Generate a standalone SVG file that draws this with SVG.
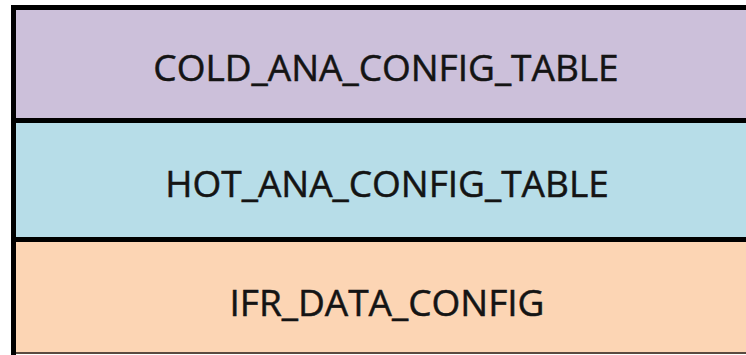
<svg xmlns="http://www.w3.org/2000/svg" width="746" height="355" viewBox="0 0 746 355">
<style>
.t{font-family:"Open Sans","Liberation Sans",sans-serif;font-size:37px;fill:#141414;stroke:#141414;stroke-width:0.5;text-anchor:middle}
.b{fill:#000}
</style>
<rect width="746" height="355" fill="#fff"/>
<g id="cold">
<rect x="16" y="10" width="730" height="108" fill="#ccc0da"/>
<text class="t" x="386" y="81">COLD_ANA_CONFIG_TABLE</text>
</g>
<g id="hot">
<rect x="16" y="123" width="730" height="114" fill="#b7dde8"/>
<text class="t" x="387" y="197">HOT_ANA_CONFIG_TABLE</text>
</g>
<g id="ifr">
<rect x="16" y="242" width="730" height="110" fill="#fcd5b4"/>
<text class="t" x="387" y="316">IFR_DATA_CONFIG</text>
</g>
<g id="borders">
<rect class="b" x="11" y="5" width="735" height="5"/>
<rect class="b" x="11" y="5" width="5" height="350"/>
<rect class="b" x="16" y="118" width="730" height="5"/>
<rect class="b" x="16" y="237" width="730" height="5"/>
<rect x="16" y="352" width="730" height="2" fill="#5a4a40"/>
</g>
<g id="connectors"></g>
</svg>
